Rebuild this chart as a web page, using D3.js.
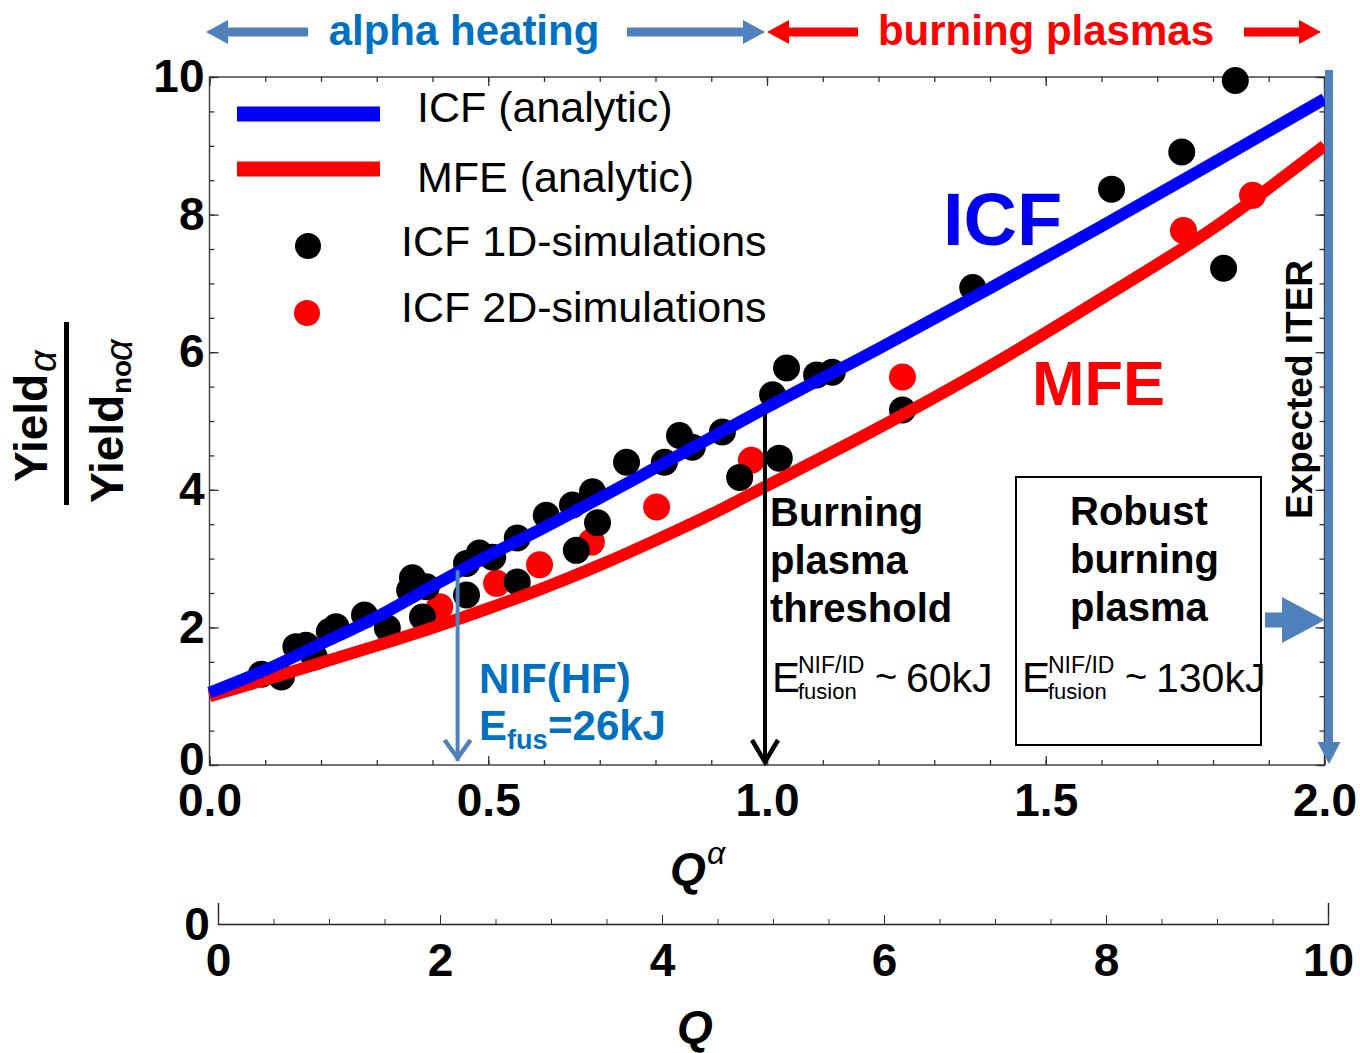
<!DOCTYPE html>
<html>
<head>
<meta charset="utf-8">
<script src="https://cdn.jsdelivr.net/npm/d3@7"></script>
<style>
  body { margin: 0; background: #fff; }
  text { font-family: "Liberation Sans", Arial, sans-serif; }
</style>
</head>
<body>
<svg id="chart"></svg>
<script>
// analytic curves, Q_alpha vs yield ratio
const qAnalytic   = [0, 0.1, 0.2, 0.3, 0.4, 0.5, 0.6, 0.7, 0.8, 0.9, 1.0, 1.2, 1.4, 1.6, 1.8, 2.0];
const icfAnalytic = [1.05, 1.38, 1.76, 2.15, 2.6, 3.04, 3.45, 3.88, 4.32, 4.76, 5.2, 6.05, 6.93, 7.83, 8.75, 9.68];
const mfeAnalytic = [1.0, 1.24, 1.485, 1.735, 1.995, 2.275, 2.575, 2.905, 3.265, 3.645, 4.06, 4.9, 5.8, 6.78, 7.8, 9.0];

// ICF 1D simulations
const sim1dQ = [0.093, 0.129, 0.155, 0.173, 0.188, 0.215, 0.227, 0.278, 0.319, 0.364, 0.359, 0.389, 0.382,
  0.461, 0.461, 0.484, 0.508, 0.552, 0.552, 0.604, 0.651, 0.687, 0.658, 0.696, 0.748, 0.816, 0.843, 0.866,
  0.920, 0.951, 1.010, 1.035, 1.089, 1.117, 1.022, 1.243, 1.369, 1.618, 1.744, 1.819, 1.840];
const sim1dY = [1.32, 1.28, 1.72, 1.74, 1.57, 1.94, 2.01, 2.18, 1.99, 2.72, 2.54, 2.59, 2.15,
  2.47, 2.93, 3.08, 3.02, 2.66, 3.30, 3.63, 3.78, 3.97, 3.12, 3.52, 4.40, 4.40, 4.79, 4.62,
  4.84, 4.18, 5.38, 5.77, 5.67, 5.71, 4.46, 5.16, 6.94, 8.37, 8.91, 7.22, 9.95];

// ICF 2D simulations
const sim2dQ = [0.413, 0.515, 0.592, 0.685, 0.802, 0.972, 1.243, 1.747, 1.871];
const sim2dY = [2.30, 2.64, 2.91, 3.24, 3.75, 4.43, 5.64, 7.77, 8.28];

const xTicks = [0, 0.5, 1, 1.5, 2];
const yTicks = [0, 2, 4, 6, 8, 10];
const qTicks = [0, 2, 4, 6, 8, 10];

const legendItems = ["ICF (analytic)", "MFE (analytic)", "ICF 1D-simulations", "ICF 2D-simulations"];

const W = 1360, H = 1053;
const SANS = '"Liberation Sans", Arial, sans-serif';
const SERIF = '"Liberation Serif", "Times New Roman", serif';
const BLUE_TXT = "#0070C0", STEEL = "#4F81BD";

const svg = d3.select("#chart").attr("width", W).attr("height", H);

const x = d3.scaleLinear().domain([0, 2]).range([209.5, 1324.5]);
const y = d3.scaleLinear().domain([0, 10]).range([765, 77]);
const xQ = d3.scaleLinear().domain([0, 10]).range([218, 1328]);

// ---- frame + ticks
function tickStyle(g) {
  g.select(".domain").remove();
  g.selectAll("line").attr("stroke", "#333").attr("stroke-width", 1.3);
}
function bigLabels(g) {
  g.attr("font-family", SANS).attr("font-size", 46).attr("font-weight", "bold");
  g.selectAll("text").attr("fill", "#000");
}

svg.append("rect")
  .attr("x", x(0)).attr("y", y(10))
  .attr("width", x(2) - x(0)).attr("height", y(0) - y(10))
  .attr("fill", "none").attr("stroke", "#444").attr("stroke-width", 1.5);

const minorX = d3.range(0, 21).map(i => i / 10);
const minorY = d3.range(0, 21).map(i => i / 2);

svg.append("g").attr("transform", `translate(0,${y(0)})`)
  .call(d3.axisBottom(x).tickValues(minorX).tickSize(-5).tickFormat("")).call(tickStyle);
svg.append("g").attr("transform", `translate(0,${y(10)})`)
  .call(d3.axisTop(x).tickValues(minorX).tickSize(-5).tickFormat("")).call(tickStyle);
svg.append("g").attr("transform", `translate(${x(0)},0)`)
  .call(d3.axisLeft(y).tickValues(minorY).tickSize(-5).tickFormat("")).call(tickStyle);
svg.append("g").attr("transform", `translate(${x(2)},0)`)
  .call(d3.axisRight(y).tickValues(minorY).tickSize(-5).tickFormat("")).call(tickStyle);

svg.append("g").attr("transform", `translate(0,${y(10)})`)
  .call(d3.axisTop(x).tickValues(xTicks).tickSize(-9).tickFormat("")).call(tickStyle);
svg.append("g").attr("transform", `translate(${x(2)},0)`)
  .call(d3.axisRight(y).tickValues(yTicks).tickSize(-9).tickFormat("")).call(tickStyle);

svg.append("g").attr("transform", `translate(0,${y(0)})`)
  .call(d3.axisBottom(x).tickValues(xTicks).tickSize(-9).tickPadding(18).tickFormat(d3.format(".1f")))
  .call(tickStyle).call(bigLabels);
const gLeft = svg.append("g").attr("transform", `translate(${x(0)},0)`)
  .call(d3.axisLeft(y).tickValues(yTicks).tickSize(-9).tickPadding(5).tickFormat(d3.format("d")))
  .call(tickStyle).call(bigLabels);
// the zero sits just above the 0.0 of the x axis
gLeft.selectAll("text").filter(d => d === 0).attr("dy", "0.2em");

// ---- second axis, Q
const gQ = svg.append("g").attr("transform", "translate(0,924)")
  .call(d3.axisBottom(xQ).tickValues(d3.range(0, 21).map(i => i / 2)).tickSize(-5).tickFormat(""));
gQ.selectAll("line").attr("stroke", "#333");
gQ.select(".domain").remove();
const gQ2 = svg.append("g").attr("transform", "translate(0,924)")
  .call(d3.axisBottom(xQ).tickValues(qTicks).tickSize(-9).tickSizeOuter(-21).tickPadding(19).tickFormat(d3.format("d")))
  .call(bigLabels);
gQ2.select(".domain").attr("stroke", "#222").attr("stroke-width", 1.4);
gQ2.selectAll("line").attr("stroke", "#333");

svg.append("text").attr("x", 197).attr("y", 924).attr("dy", "0.35em")
  .attr("text-anchor", "middle").attr("font-size", 46).attr("font-weight", "bold").text("0");

// axis titles
svg.append("text").attr("x", 670).attr("y", 885)
  .attr("font-size", 46).attr("font-weight", "bold").attr("font-style", "italic").text("Q");
svg.append("text").attr("x", 707).attr("y", 864)
  .attr("font-family", SERIF).attr("font-size", 32).attr("font-style", "italic").text("α");
svg.append("text").attr("x", 677).attr("y", 1043)
  .attr("font-size", 46).attr("font-weight", "bold").attr("font-style", "italic").text("Q");

// y label as a fraction
const yl = svg.append("g").attr("transform", "rotate(-90)");
yl.append("text").attr("x", -482).attr("y", 47)
  .attr("font-size", 46).attr("font-weight", "bold").text("Yield");
yl.append("text").attr("x", -372).attr("y", 56)
  .attr("font-family", SERIF).attr("font-size", 38).attr("font-style", "italic").text("α");
yl.append("line").attr("x1", -505).attr("x2", -322).attr("y1", 66.5).attr("y2", 66.5)
  .attr("stroke", "#000").attr("stroke-width", 5);
yl.append("text").attr("x", -503).attr("y", 123)
  .attr("font-size", 46).attr("font-weight", "bold").text("Yield");
yl.append("text").attr("x", -394).attr("y", 131)
  .attr("font-size", 28).attr("font-weight", "bold").text("no");
yl.append("text").attr("x", -361).attr("y", 132)
  .attr("font-family", SERIF).attr("font-size", 38).attr("font-style", "italic").text("α");

// ---- data
const dots2d = sim2dQ.map((q, i) => ({ q, v: sim2dY[i] }));
const dots1d = sim1dQ.map((q, i) => ({ q, v: sim1dY[i] }));

svg.append("g").selectAll("circle").data(dots2d).join("circle")
  .attr("cx", d => x(d.q)).attr("cy", d => y(d.v)).attr("r", 13.5).attr("fill", "#ff0000");
svg.append("g").selectAll("circle").data(dots1d).join("circle")
  .attr("cx", d => x(d.q)).attr("cy", d => y(d.v)).attr("r", 13.5).attr("fill", "#000");

const line = d3.line().x(d => x(d[0])).y(d => y(d[1])).curve(d3.curveMonotoneX);
svg.append("path").datum(qAnalytic.map((q, i) => [q, mfeAnalytic[i]]))
  .attr("d", line).attr("fill", "none").attr("stroke", "#ff0000").attr("stroke-width", 12);
svg.append("path").datum(qAnalytic.map((q, i) => [q, icfAnalytic[i]]))
  .attr("d", line).attr("fill", "none").attr("stroke", "#0000ff").attr("stroke-width", 12);

// ---- legend
const legend = svg.append("g").attr("font-size", 43);
legend.append("line").attr("x1", 237).attr("x2", 380).attr("y1", 114).attr("y2", 114)
  .attr("stroke", "#0000ff").attr("stroke-width", 15);
legend.append("line").attr("x1", 237).attr("x2", 380).attr("y1", 169).attr("y2", 169)
  .attr("stroke", "#ff0000").attr("stroke-width", 15);
legend.append("circle").attr("cx", 308).attr("cy", 246).attr("r", 13).attr("fill", "#000");
legend.append("circle").attr("cx", 307).attr("cy", 313).attr("r", 13).attr("fill", "#ff0000");
legend.append("text").attr("x", 417).attr("y", 122).text(legendItems[0]);
legend.append("text").attr("x", 417).attr("y", 192).text(legendItems[1]);
legend.append("text").attr("x", 401).attr("y", 256).text(legendItems[2]);
legend.append("text").attr("x", 401).attr("y", 322).text(legendItems[3]);

// ---- big curve labels
svg.append("text").attr("x", 943).attr("y", 245).attr("font-size", 74).attr("font-weight", "bold")
  .attr("fill", "#0000ee").text("ICF");
svg.append("text").attr("x", 1032).attr("y", 405).attr("font-size", 63).attr("font-weight", "bold")
  .attr("fill", "#ff0000").text("MFE");

// ---- top arrows
function blockArrow(x0, x1, yc, shaft, headLen, headHalf, color) {
  const dir = Math.sign(x1 - x0);
  const xb = x1 - dir * headLen;
  const pts = [[x0, yc - shaft / 2], [xb, yc - shaft / 2], [xb, yc - headHalf], [x1, yc],
    [xb, yc + headHalf], [xb, yc + shaft / 2], [x0, yc + shaft / 2]];
  svg.append("polygon").attr("points", pts.map(p => p.join(",")).join(" ")).attr("fill", color);
}
blockArrow(308, 206, 32, 9, 22, 12, STEEL);
blockArrow(627, 765, 32, 9, 22, 12, STEEL);
blockArrow(858, 767, 32, 9, 22, 12, "#ff0000");
blockArrow(1244, 1321, 32, 9, 22, 12, "#ff0000");
svg.append("text").attr("x", 464).attr("y", 45).attr("text-anchor", "middle")
  .attr("font-size", 42).attr("font-weight", "bold").attr("fill", BLUE_TXT).text("alpha heating");
svg.append("text").attr("x", 1046).attr("y", 45).attr("text-anchor", "middle")
  .attr("font-size", 42).attr("font-weight", "bold").attr("fill", "#ff0000").text("burning plasmas");

// ---- NIF(HF) arrow
const nifQ = 0.445;
svg.append("line").attr("x1", x(nifQ)).attr("x2", x(nifQ)).attr("y1", y(2.83)).attr("y2", y(0) - 4)
  .attr("stroke", STEEL).attr("stroke-width", 4);
svg.append("path").attr("d", `M${x(nifQ) - 13},740 L${x(nifQ)},758 L${x(nifQ) + 13},740`)
  .attr("fill", "none").attr("stroke", STEEL).attr("stroke-width", 4.5);
svg.append("text").attr("x", 479).attr("y", 693).attr("font-size", 42).attr("font-weight", "bold")
  .attr("fill", BLUE_TXT).text("NIF(HF)");
svg.append("text").attr("x", 479).attr("y", 740).attr("font-size", 42).attr("font-weight", "bold")
  .attr("fill", BLUE_TXT).text("E");
svg.append("text").attr("x", 507).attr("y", 749).attr("font-size", 27).attr("font-weight", "bold")
  .attr("fill", BLUE_TXT).text("fus");
svg.append("text").attr("x", 548).attr("y", 740).attr("font-size", 42).attr("font-weight", "bold")
  .attr("fill", BLUE_TXT).text("=26kJ");

// ---- burning plasma threshold
const thrQ = 1.0;
svg.append("line").attr("x1", x(thrQ) - 2).attr("x2", x(thrQ) - 2).attr("y1", y(5.1)).attr("y2", y(0) - 3)
  .attr("stroke", "#000").attr("stroke-width", 4);
svg.append("path").attr("d", `M${x(thrQ) - 15},740 L${x(thrQ) - 2},762 L${x(thrQ) + 11},740`)
  .attr("fill", "none").attr("stroke", "#000").attr("stroke-width", 4.5);
["Burning", "plasma", "threshold"].forEach((t, i) => {
  svg.append("text").attr("x", 770).attr("y", 526 + i * 48)
    .attr("font-size", 40).attr("font-weight", "bold").text(t);
});

function eFusion(x0, value) {
  svg.append("text").attr("x", x0).attr("y", 692).attr("font-size", 42).text("E");
  svg.append("text").attr("x", x0 + 26).attr("y", 673).attr("font-size", 23).text("NIF/ID");
  svg.append("text").attr("x", x0 + 26).attr("y", 699).attr("font-size", 22).text("fusion");
  svg.append("text").attr("x", x0 + 103).attr("y", 690).attr("font-size", 38).text("~");
  svg.append("text").attr("x", x0 + 134).attr("y", 692).attr("font-size", 41).text(value);
}
eFusion(772, "60kJ");

// ---- robust burning plasma box
svg.append("rect").attr("x", 1016).attr("y", 477).attr("width", 245).attr("height", 268)
  .attr("fill", "none").attr("stroke", "#000").attr("stroke-width", 2);
["Robust", "burning", "plasma"].forEach((t, i) => {
  svg.append("text").attr("x", 1070).attr("y", 525 + i * 48)
    .attr("font-size", 40).attr("font-weight", "bold").text(t);
});
eFusion(1022, "130kJ");

blockArrow(1265, 1325, 620, 15, 43, 23, STEEL);

// ---- expected ITER
svg.append("line").attr("x1", x(2) + 4.5).attr("x2", x(2) + 4.5).attr("y1", 70).attr("y2", 745)
  .attr("stroke", STEEL).attr("stroke-width", 8);
svg.append("polygon")
  .attr("points", `${x(2) - 7},742 ${x(2) + 16},742 ${x(2) + 4.5},764`).attr("fill", STEEL);
svg.append("text").attr("transform", "translate(1312,519) rotate(-90)")
  .attr("font-size", 37).attr("font-weight", "bold").text("Expected ITER");
</script>
</body>
</html>
